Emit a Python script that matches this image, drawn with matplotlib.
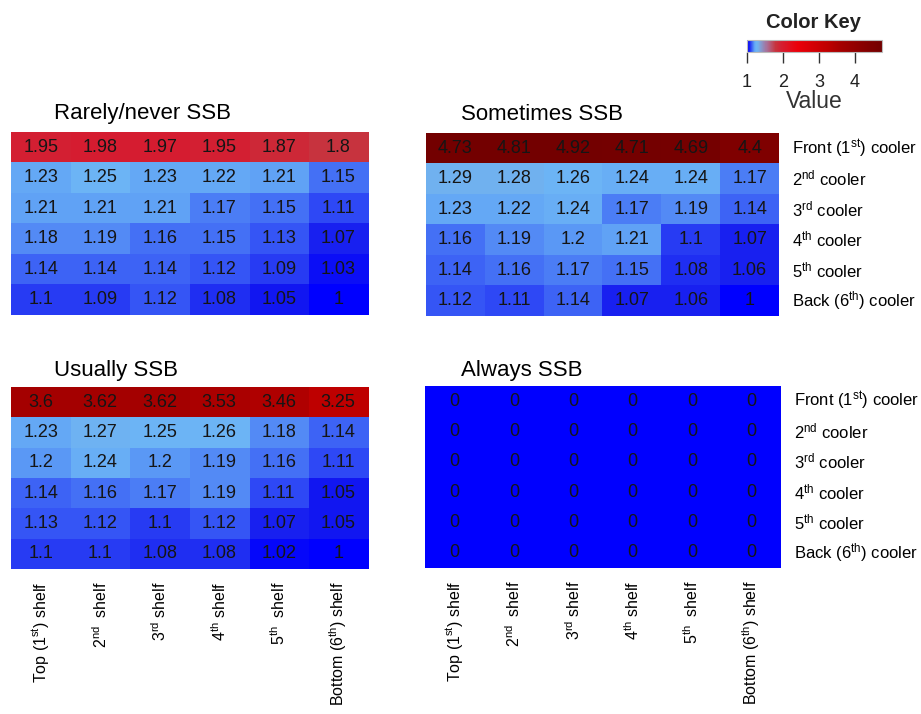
import numpy as np
import matplotlib
matplotlib.use("Agg")
import matplotlib.pyplot as plt
from matplotlib.colors import LinearSegmentedColormap, Normalize
from matplotlib.cm import ScalarMappable

plt.rcParams['font.family'] = ['Liberation Sans', 'DejaVu Sans']
plt.rcParams['mathtext.fontset'] = 'custom'
plt.rcParams['mathtext.rm'] = 'Liberation Sans'
plt.rcParams['mathtext.it'] = 'Liberation Sans'

# ---- data ----
panel_titles = ["Rarely/never SSB", "Sometimes SSB", "Usually SSB", "Always SSB"]
row_labels = ["Front (1$^{\\mathrm{st}}$) cooler", "2$^{\\mathrm{nd}}$ cooler", "3$^{\\mathrm{rd}}$ cooler",
              "4$^{\\mathrm{th}}$ cooler", "5$^{\\mathrm{th}}$ cooler", "Back (6$^{\\mathrm{th}}$) cooler"]
col_labels = ["Top (1$^{\\mathrm{st}}$) shelf", "2$^{\\mathrm{nd}}$  shelf", "3$^{\\mathrm{rd}}$ shelf",
              "4$^{\\mathrm{th}}$ shelf", "5$^{\\mathrm{th}}$  shelf", "Bottom (6$^{\\mathrm{th}}$) shelf"]

rarely = [[1.95, 1.98, 1.97, 1.95, 1.87, 1.8],
          [1.23, 1.25, 1.23, 1.22, 1.21, 1.15],
          [1.21, 1.21, 1.21, 1.17, 1.15, 1.11],
          [1.18, 1.19, 1.16, 1.15, 1.13, 1.07],
          [1.14, 1.14, 1.14, 1.12, 1.09, 1.03],
          [1.1, 1.09, 1.12, 1.08, 1.05, 1]]
sometimes = [[4.73, 4.81, 4.92, 4.71, 4.69, 4.4],
             [1.29, 1.28, 1.26, 1.24, 1.24, 1.17],
             [1.23, 1.22, 1.24, 1.17, 1.19, 1.14],
             [1.16, 1.19, 1.2, 1.21, 1.1, 1.07],
             [1.14, 1.16, 1.17, 1.15, 1.08, 1.06],
             [1.12, 1.11, 1.14, 1.07, 1.06, 1]]
usually = [[3.6, 3.62, 3.62, 3.53, 3.46, 3.25],
           [1.23, 1.27, 1.25, 1.26, 1.18, 1.14],
           [1.2, 1.24, 1.2, 1.19, 1.16, 1.11],
           [1.14, 1.16, 1.17, 1.19, 1.11, 1.05],
           [1.13, 1.12, 1.1, 1.12, 1.07, 1.05],
           [1.1, 1.1, 1.08, 1.08, 1.02, 1]]
always = [[0, 0, 0, 0, 0, 0],
          [0, 0, 0, 0, 0, 0],
          [0, 0, 0, 0, 0, 0],
          [0, 0, 0, 0, 0, 0],
          [0, 0, 0, 0, 0, 0],
          [0, 0, 0, 0, 0, 0]]
key_ticks = [1, 2, 3, 4]

# ---- colour scale ----
vmin, vmax = 1.0, 4.75
anchors = [
    (1.00, (0, 0, 255)),
    (1.05, (20, 25, 240)),
    (1.10, (45, 70, 245)),
    (1.15, (70, 115, 245)),
    (1.20, (95, 160, 245)),
    (1.25, (108, 180, 245)),
    (1.30, (115, 175, 235)),
    (1.55, (170, 110, 150)),
    (1.80, (200, 50, 60)),
    (1.95, (212, 30, 50)),
    (2.40, (235, 0, 10)),
    (3.25, (190, 0, 0)),
    (3.60, (165, 0, 0)),
    (4.40, (128, 0, 0)),
    (4.75, (115, 0, 0)),
]
cmap = LinearSegmentedColormap.from_list(
    "key", [((v - vmin) / (vmax - vmin), tuple(c / 255 for c in rgb)) for v, rgb in anchors])
cmap.set_under('#0000ff')
cmap.set_over('#730000')
norm = Normalize(vmin=vmin, vmax=vmax)

W, H = 921, 714
fig = plt.figure(figsize=(W / 100, H / 100), dpi=100)


def rect(x0, y0, x1, y1):
    return [x0 / W, 1 - y1 / H, (x1 - x0) / W, (y1 - y0) / H]


panels = [
    (rarely, (11, 132, 368, 315), 54, 114, False, False),
    (sometimes, (426, 133, 779, 316), 461, 114, True, False),
    (usually, (11, 387, 368, 569), 54, 370, False, True),
    (always, (425, 386, 781, 568), 461, 370, True, True),
]

for (data, box, tx, ty, show_rows, show_cols), title in zip(panels, panel_titles):
    arr = np.array(data, dtype=float)
    ax = fig.add_axes(rect(*box))
    ax.imshow(arr, cmap=cmap, norm=norm, aspect='auto', interpolation='nearest')
    nr, nc = arr.shape
    for i in range(nr):
        for j in range(nc):
            ax.text(j, i, f"{arr[i, j]:g}", ha='center', va='center',
                    fontsize=13, color='#151515')
    for s in ax.spines.values():
        s.set_visible(False)
    ax.set_xticks([])
    ax.set_yticks([])
    fig.text(tx / W, 1 - ty / H, title, ha='left', va='center', fontsize=16)
    if show_rows:
        for i, lab in enumerate(row_labels):
            ax.annotate(lab, xy=(nc - 0.5, i), xycoords='data', xytext=(9, 0),
                        textcoords='offset points', ha='left', va='center',
                        fontsize=12, annotation_clip=False)
    if show_cols:
        for j, lab in enumerate(col_labels):
            ax.annotate(lab, xy=(j, nr - 0.5), xycoords='data', xytext=(0, -9),
                        textcoords='offset points', rotation=90, ha='center', va='top',
                        fontsize=11.5, annotation_clip=False)

# ---- colour key ----
cax = fig.add_axes(rect(747, 40, 882, 52))
sm = ScalarMappable(norm=norm, cmap=cmap)
cb = fig.colorbar(sm, cax=cax, orientation='horizontal', ticks=key_ticks)
cb.outline.set_edgecolor('#bbbbbb')
cb.outline.set_linewidth(0.8)
cax.tick_params(axis='x', length=8, width=1.0, color='#333333', labelsize=13, pad=8,
                labelcolor='#222222')
cax.set_xticklabels([str(t) for t in key_ticks])
fig.text(813 / W, 1 - 22 / H, "Color Key", ha='center', va='center', fontsize=14.5,
         fontweight='bold', color='#222222')
fig.text(814 / W, 1 - 102 / H, "Value", ha='center', va='center', fontsize=16.5,
         color='#333333')

fig.savefig("out.png", dpi=100)
